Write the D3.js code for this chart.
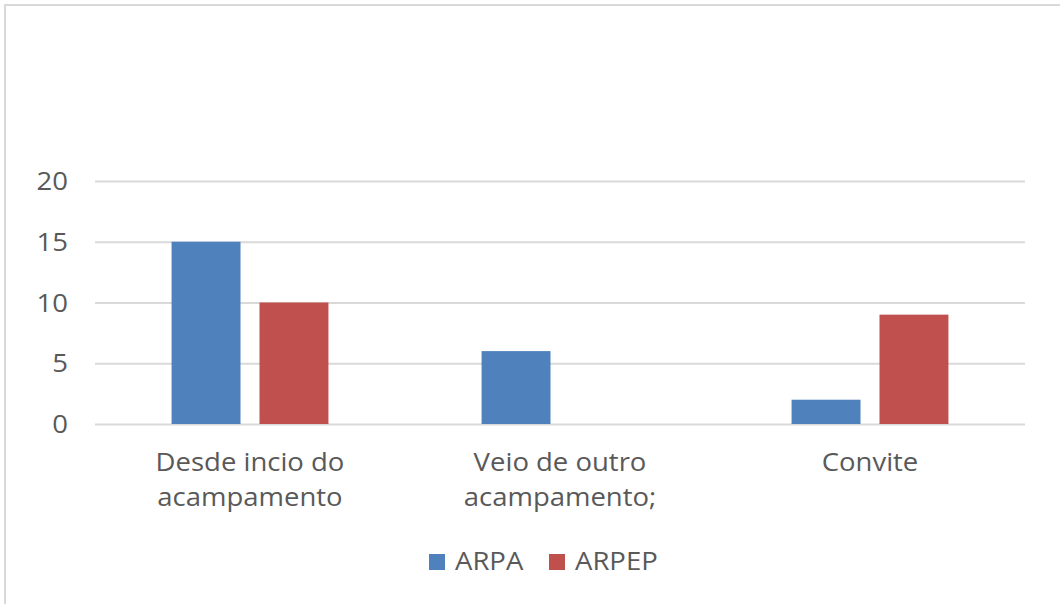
<!DOCTYPE html>
<html>
<head>
<meta charset="utf-8">
<script src="https://cdn.jsdelivr.net/npm/d3@7"></script>
<style>
  html, body { margin: 0; padding: 0; background: #fff; }
  svg { display: block; }
  text { font-family: "Open Sans", "Liberation Sans", sans-serif; fill: #595959; }
</style>
</head>
<body>
<svg id="chart" width="1060" height="604"></svg>
<script>
const categories = [["Desde incio do", "acampamento"], ["Veio de outro", "acampamento;"], ["Convite"]];
const seriesNames = ["ARPA", "ARPEP"];
const arpa = [15, 6, 2];
const arpep = [10, 0, 9];
const yTicks = [0, 5, 10, 15, 20];
const colors = ["#4f81bd", "#c0504d"];

const values = [arpa, arpep];
const svg = d3.select("#chart");
const HS = 1.1; // horizontal stretch of text, matching the reference rendering
const FS = 25;

// chart-area border
svg.append("rect").attr("x", 5).attr("y", 5).attr("width", 1100).attr("height", 700)
  .attr("fill", "#fff").attr("stroke", "#d9d9d9").attr("stroke-width", 2);

const plot = { left: 95, right: 1025, top: 181, bottom: 424 };
const y = d3.scaleLinear().domain([0, 20]).range([plot.bottom, plot.top]);
const x0 = d3.scaleBand().domain(d3.range(categories.length)).range([plot.left, plot.right]).padding(0);
const groupW = x0.bandwidth() * 0.506;
const x1 = d3.scaleBand().domain(seriesNames).range([0, groupW]).paddingInner(0.216).paddingOuter(0);

// gridlines via axis
const grid = svg.append("g").attr("transform", `translate(${plot.left},0)`)
  .call(d3.axisRight(y).tickValues(yTicks).tickSize(plot.right - plot.left).tickFormat(""));
grid.select(".domain").remove();
grid.selectAll("line").attr("stroke", "#d9d9d9").attr("stroke-width", 2);

// y tick labels
svg.append("g").selectAll("text").data(yTicks).join("text")
  .attr("transform", d => `translate(68,${y(d) + 9}) scale(${HS},1)`)
  .attr("text-anchor", "end").attr("font-size", FS).text(d => d);

// bars
categories.forEach((c, i) => {
  const cx = x0(i) + x0.bandwidth() / 2 - groupW / 2;
  svg.append("g").selectAll("rect").data(seriesNames).join("rect")
    .attr("x", s => cx + x1(s))
    .attr("width", x1.bandwidth())
    .attr("y", (s, k) => y(values[k][i]))
    .attr("height", (s, k) => y(0) - y(values[k][i]))
    .attr("fill", (s, k) => colors[k]);
});

// category labels
categories.forEach((lines, i) => {
  const cx = x0(i) + x0.bandwidth() / 2;
  lines.forEach((t, j) => {
    svg.append("text")
      .attr("transform", `translate(${cx},${471 + j * 35}) scale(${HS},1)`)
      .attr("text-anchor", "middle").attr("font-size", FS).text(t);
  });
});

// legend
const legendItems = [{ name: seriesNames[0], sx: 429, tx: 455 }, { name: seriesNames[1], sx: 549, tx: 575 }];
legendItems.forEach((d, k) => {
  svg.append("rect").attr("x", d.sx).attr("y", 554).attr("width", 16).attr("height", 16).attr("fill", colors[k]);
  svg.append("text").attr("transform", `translate(${d.tx},570) scale(${HS},1)`)
    .attr("font-size", 25).text(d.name);
});
</script>
</body>
</html>
